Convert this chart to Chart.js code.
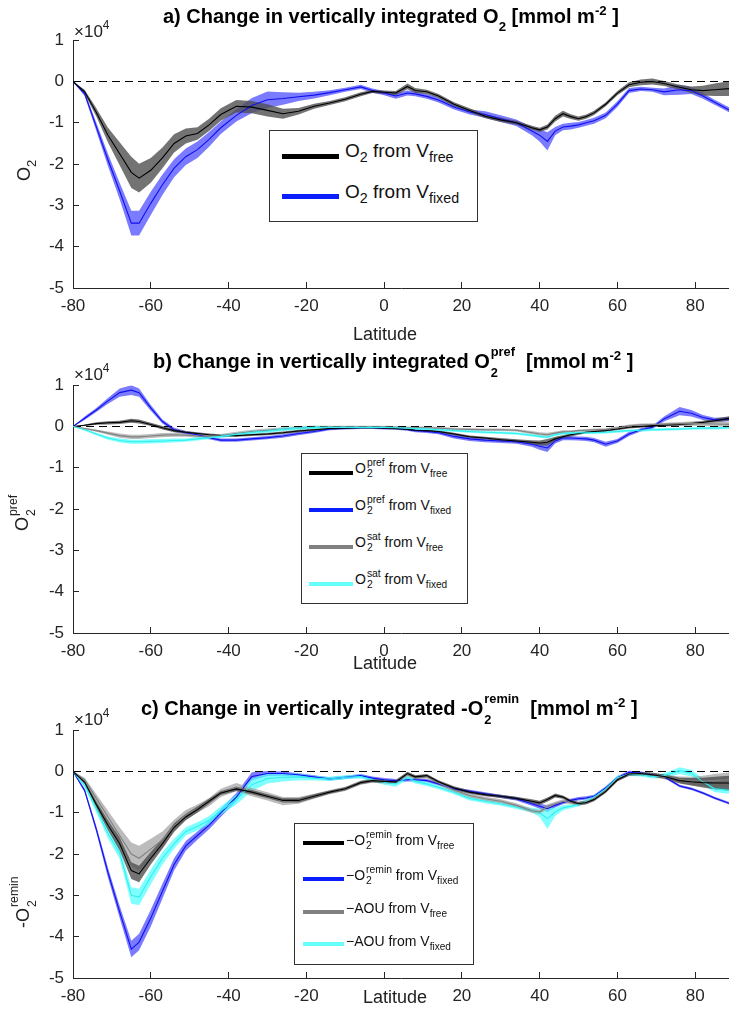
<!DOCTYPE html>
<html><head><meta charset="utf-8">
<script src="https://cdn.jsdelivr.net/npm/chart.js@4.4.1/dist/chart.umd.min.js"></script>
<style>
body{margin:0;background:#fff}
#wrap{position:relative;width:729px;height:1012px;overflow:hidden;background:#fff;font-family:"Liberation Sans",Arial,Helvetica,sans-serif;color:#000}
canvas{position:absolute;left:0}
.ab{position:absolute;white-space:nowrap;line-height:1}
.t{font-weight:bold;font-size:20px}
sub,sup{line-height:0;font-size:0.7em}
.t sub{font-size:0.66em;vertical-align:-8px}
.t sup{font-size:0.66em;vertical-align:8px}
.stk{position:relative;display:inline-block;line-height:1;margin-left:1px}
.stk>.u{position:relative}
.stk>.d{position:absolute;left:0}
.t .stk{font-size:0.64em}
.t .stk>.u{top:-0.95em}
.t .stk>.d{top:0.7em}
.lg{font-size:14px;color:#111}
.lg sub{font-size:0.72em;vertical-align:-4px}
.lg .stk{font-size:0.74em}
.lg .stk>.u{top:-0.7em}
.lg .stk>.d{top:0.42em}
.la{font-size:19px;color:#111}
.la sub{font-size:0.75em;vertical-align:-5px}
.box{position:absolute;border:1px solid #333;background:#fff;box-sizing:border-box}
.sw{position:absolute}
.yl{position:absolute;width:0;height:0;transform:rotate(-90deg);transform-origin:0 0}
.yl>div{position:absolute;left:0;white-space:nowrap;line-height:1;font-size:18px;color:#222}
.yl sub{font-size:0.72em;vertical-align:-6px}
.yl .stk{font-size:0.68em}
.yl .stk>.u{top:-0.85em}
.yl .stk>.d{top:0.6em}
.ex{font-size:17px;color:#222}
.ex sup{font-size:0.7em;vertical-align:8px}
.xl{font-size:18px;color:#222}
</style></head><body><div id="wrap">
<canvas id="ca" width="729" height="345" style="top:0px"></canvas>
<canvas id="cb" width="729" height="340" style="top:345px"></canvas>
<canvas id="cc" width="729" height="327" style="top:685px"></canvas>

<div class="ab t" style="left:163px;top:6px">a) Change in vertically integrated O<sub>2</sub> [mmol m<sup>-2</sup> ]</div>
<div class="ab t" style="left:153px;top:351px">b) Change in vertically integrated O<span class="stk"><span class="u">pref</span><span class="d">2</span></span>&nbsp; [mmol m<sup>-2</sup> ]</div>
<div class="ab t" style="left:141px;top:698px">c) Change in vertically integrated -O<span class="stk"><span class="u">remin</span><span class="d">2</span></span>&nbsp; [mmol m<sup>-2</sup> ]</div>

<div class="ab ex" style="left:74px;top:23px">×10<sup>4</sup></div>
<div class="ab ex" style="left:74px;top:366px">×10<sup>4</sup></div>
<div class="ab ex" style="left:74px;top:711px">×10<sup>4</sup></div>

<div class="yl" style="left:30px;top:181px"><div style="top:-15.2px">O<sub>2</sub></div></div>
<div class="yl" style="left:28px;top:531px"><div style="top:-15.2px">O<span class="stk"><span class="u">pref</span><span class="d">2</span></span></div></div>
<div class="yl" style="left:29px;top:928px"><div style="top:-15.2px">-O<span class="stk"><span class="u">remin</span><span class="d">2</span></span></div></div>

<div class="ab xl" style="left:353px;top:325px">Latitude</div>
<div class="ab xl" style="left:353px;top:654px">Latitude</div>
<div class="ab xl" style="left:363px;top:988px">Latitude</div>

<div class="box" style="left:269px;top:130px;width:209px;height:92px"></div>
<div class="sw" style="left:282px;top:154px;width:57px;height:5px;background:#000"></div>
<div class="ab la" style="left:345px;top:141px">O<sub>2</sub> from V<sub>free</sub></div>
<div class="sw" style="left:282px;top:194px;width:57px;height:5px;background:#0a1eff"></div>
<div class="ab la" style="left:345px;top:182px">O<sub>2</sub> from V<sub>fixed</sub></div>

<div class="box" style="left:301px;top:453px;width:167px;height:151px"></div>
<div class="sw" style="left:309px;top:471px;width:44px;height:4px;background:#000"></div>
<div class="ab lg" style="left:355px;top:461px">O<span class="stk"><span class="u">pref</span><span class="d">2</span></span> from V<sub>free</sub></div>
<div class="sw" style="left:309px;top:508px;width:44px;height:4px;background:#0a1eff"></div>
<div class="ab lg" style="left:355px;top:498px">O<span class="stk"><span class="u">pref</span><span class="d">2</span></span> from V<sub>fixed</sub></div>
<div class="sw" style="left:309px;top:545px;width:44px;height:4px;background:#808080"></div>
<div class="ab lg" style="left:355px;top:535px">O<span class="stk"><span class="u">sat</span><span class="d">2</span></span> from V<sub>free</sub></div>
<div class="sw" style="left:309px;top:582px;width:44px;height:4px;background:#66ffff"></div>
<div class="ab lg" style="left:355px;top:572px">O<span class="stk"><span class="u">sat</span><span class="d">2</span></span> from V<sub>fixed</sub></div>

<div class="box" style="left:294px;top:823px;width:180px;height:142px"></div>
<div class="sw" style="left:303px;top:841px;width:41px;height:4px;background:#000"></div>
<div class="ab lg" style="left:346px;top:833px">−O<span class="stk"><span class="u">remin</span><span class="d">2</span></span> from V<sub>free</sub></div>
<div class="sw" style="left:303px;top:877px;width:41px;height:4px;background:#0a1eff"></div>
<div class="ab lg" style="left:346px;top:868px">−O<span class="stk"><span class="u">remin</span><span class="d">2</span></span> from V<sub>fixed</sub></div>
<div class="sw" style="left:303px;top:910px;width:41px;height:4px;background:#808080"></div>
<div class="ab lg" style="left:346px;top:901px">−AOU from V<sub>free</sub></div>
<div class="sw" style="left:303px;top:942px;width:41px;height:4px;background:#66ffff"></div>
<div class="ab lg" style="left:346px;top:934px">−AOU from V<sub>fixed</sub></div>
</div>
<script>
// ---- data (values in units of 10^4 mmol m^-2) ----
const lat = [-80,-77,-74,-71,-68,-65,-63,-60,-57,-54,-51,-48,-45,-42,-38,-34,-30,-26,-22,-18,-14,-10,-6,-3,0,3,6,8,11,14,18,22,26,30,34,38,40,42,44,46,48,50,52,54,57,60,63,66,69,72,76,79,82,85,89];
const xTicks = [-80,-60,-40,-20,0,20,40,60,80];
const yTicks = [1,0,-1,-2,-3,-4,-5];

// panel a
const aO2Free = [0,-0.25,-0.75,-1.3,-1.75,-2.2,-2.34,-2.15,-1.85,-1.5,-1.32,-1.26,-1.05,-0.8,-0.6,-0.62,-0.7,-0.78,-0.72,-0.6,-0.52,-0.43,-0.31,-0.24,-0.26,-0.28,-0.12,-0.22,-0.25,-0.35,-0.55,-0.7,-0.84,-0.93,-1.0,-1.12,-1.17,-1.1,-0.9,-0.78,-0.85,-0.9,-0.85,-0.76,-0.55,-0.28,-0.08,-0.02,0,-0.05,-0.14,-0.2,-0.22,-0.2,-0.17];
const aO2FreeSpread = [0,0.05,0.1,0.18,0.28,0.38,0.35,0.3,0.25,0.22,0.18,0.15,0.15,0.15,0.15,0.15,0.15,0.12,0.08,0.06,0.05,0.05,0.05,0.04,0.04,0.05,0.07,0.06,0.05,0.05,0.05,0.05,0.05,0.05,0.05,0.05,0.05,0.06,0.07,0.07,0.06,0.05,0.05,0.05,0.05,0.05,0.06,0.07,0.07,0.06,0.06,0.08,0.12,0.15,0.18];
const aO2Fixed = [0,-0.3,-1.1,-1.9,-2.65,-3.43,-3.43,-2.95,-2.5,-2.1,-1.82,-1.65,-1.4,-1.12,-0.82,-0.58,-0.44,-0.41,-0.37,-0.33,-0.27,-0.2,-0.13,-0.22,-0.28,-0.35,-0.28,-0.3,-0.36,-0.45,-0.62,-0.74,-0.8,-0.9,-1.0,-1.2,-1.3,-1.45,-1.2,-1.1,-1.08,-1.05,-1.0,-0.95,-0.82,-0.55,-0.22,-0.18,-0.2,-0.25,-0.2,-0.22,-0.35,-0.5,-0.7];
const aO2FixedSpread = [0,0.05,0.1,0.15,0.2,0.3,0.3,0.28,0.25,0.22,0.2,0.2,0.18,0.15,0.15,0.18,0.2,0.15,0.1,0.08,0.06,0.05,0.05,0.05,0.05,0.07,0.06,0.06,0.06,0.06,0.06,0.06,0.08,0.08,0.08,0.1,0.15,0.22,0.1,0.08,0.08,0.07,0.07,0.07,0.07,0.07,0.06,0.05,0.05,0.08,0.12,0.08,0.07,0.06,0.06];

// panel b
const bPrefFree = [0,0.03,0.07,0.09,0.1,0.14,0.12,0.05,-0.03,-0.1,-0.14,-0.17,-0.2,-0.22,-0.22,-0.2,-0.18,-0.15,-0.11,-0.08,-0.05,-0.04,-0.03,-0.03,-0.04,-0.05,-0.07,-0.09,-0.1,-0.12,-0.18,-0.25,-0.28,-0.32,-0.35,-0.38,-0.4,-0.38,-0.3,-0.25,-0.2,-0.17,-0.14,-0.12,-0.1,-0.06,-0.02,0,0.02,0.03,0.05,0.07,0.1,0.14,0.2];
const bPrefFreeSpread = [0,0.02,0.03,0.04,0.04,0.05,0.05,0.04,0.04,0.04,0.03,0.03,0.03,0.03,0.03,0.03,0.03,0.03,0.03,0.03,0.02,0.02,0.02,0.02,0.02,0.02,0.02,0.02,0.02,0.03,0.03,0.03,0.03,0.04,0.04,0.05,0.06,0.08,0.05,0.04,0.04,0.03,0.03,0.03,0.03,0.03,0.03,0.03,0.03,0.03,0.03,0.04,0.04,0.05,0.05];
const bPrefFixed = [0,0.2,0.4,0.62,0.82,0.88,0.82,0.45,0.12,-0.08,-0.15,-0.2,-0.27,-0.33,-0.33,-0.3,-0.27,-0.23,-0.17,-0.12,-0.06,-0.04,-0.03,-0.03,-0.04,-0.05,-0.07,-0.1,-0.12,-0.15,-0.24,-0.3,-0.33,-0.35,-0.37,-0.43,-0.48,-0.52,-0.35,-0.28,-0.28,-0.29,-0.3,-0.33,-0.43,-0.35,-0.18,-0.08,-0.02,0.18,0.37,0.32,0.22,0.16,0.18];
const bPrefFixedSpread = [0,0.04,0.05,0.07,0.1,0.12,0.1,0.07,0.05,0.05,0.04,0.04,0.04,0.04,0.04,0.04,0.04,0.04,0.04,0.04,0.03,0.03,0.03,0.03,0.03,0.03,0.03,0.04,0.04,0.04,0.05,0.05,0.05,0.05,0.05,0.06,0.08,0.1,0.06,0.05,0.05,0.05,0.05,0.05,0.06,0.05,0.05,0.04,0.04,0.06,0.1,0.08,0.06,0.05,0.05];
const bSatFree = [0,-0.05,-0.1,-0.16,-0.22,-0.25,-0.25,-0.23,-0.21,-0.2,-0.21,-0.23,-0.24,-0.22,-0.17,-0.12,-0.09,-0.06,-0.03,-0.02,-0.01,-0.01,-0.01,-0.01,-0.01,-0.02,-0.03,-0.03,-0.03,-0.04,-0.06,-0.07,-0.08,-0.08,-0.09,-0.15,-0.18,-0.2,-0.16,-0.13,-0.12,-0.1,-0.09,-0.08,-0.07,-0.03,0.02,0.04,0.05,0.06,0.07,0.07,0.07,0.06,0.05];
const bSatFreeSpread = [0,0.02,0.03,0.04,0.05,0.05,0.05,0.05,0.05,0.05,0.04,0.04,0.04,0.04,0.04,0.04,0.04,0.04,0.04,0.04,0.03,0.03,0.03,0.03,0.03,0.03,0.03,0.03,0.03,0.03,0.03,0.03,0.03,0.03,0.03,0.04,0.04,0.05,0.04,0.04,0.03,0.03,0.03,0.03,0.03,0.03,0.03,0.03,0.03,0.03,0.04,0.05,0.06,0.06,0.06];
const bSatFixed = [0,-0.08,-0.18,-0.28,-0.34,-0.37,-0.37,-0.36,-0.35,-0.34,-0.33,-0.3,-0.27,-0.24,-0.19,-0.14,-0.11,-0.07,-0.04,-0.02,-0.02,-0.02,-0.02,-0.02,-0.02,-0.03,-0.04,-0.05,-0.06,-0.08,-0.1,-0.12,-0.14,-0.15,-0.17,-0.21,-0.24,-0.26,-0.2,-0.17,-0.16,-0.15,-0.15,-0.15,-0.14,-0.12,-0.1,-0.09,-0.08,-0.07,-0.06,-0.05,-0.04,-0.04,-0.03];
const bSatFixedSpread = [0,0.02,0.03,0.04,0.05,0.05,0.05,0.05,0.05,0.05,0.04,0.04,0.04,0.04,0.04,0.04,0.04,0.04,0.04,0.04,0.03,0.03,0.03,0.03,0.03,0.03,0.03,0.03,0.03,0.03,0.03,0.03,0.03,0.03,0.03,0.03,0.03,0.03,0.03,0.03,0.03,0.03,0.03,0.03,0.03,0.03,0.03,0.03,0.03,0.03,0.03,0.03,0.03,0.03,0.03];

// panel c
const cReminFree = [0,-0.26,-0.8,-1.3,-1.75,-2.4,-2.48,-2.1,-1.75,-1.35,-1.1,-0.92,-0.72,-0.52,-0.42,-0.5,-0.6,-0.7,-0.7,-0.6,-0.5,-0.42,-0.27,-0.22,-0.24,-0.25,-0.05,-0.13,-0.1,-0.25,-0.4,-0.5,-0.56,-0.6,-0.65,-0.72,-0.76,-0.68,-0.58,-0.62,-0.72,-0.78,-0.75,-0.68,-0.48,-0.2,-0.06,-0.05,-0.08,-0.12,-0.22,-0.25,-0.27,-0.28,-0.28];
const cReminFreeSpread = [0,0.04,0.08,0.12,0.16,0.2,0.2,0.15,0.12,0.1,0.08,0.07,0.06,0.05,0.05,0.05,0.05,0.05,0.05,0.05,0.04,0.04,0.04,0.04,0.04,0.04,0.04,0.04,0.04,0.04,0.04,0.04,0.04,0.04,0.04,0.05,0.05,0.05,0.05,0.04,0.04,0.04,0.04,0.04,0.04,0.04,0.04,0.04,0.05,0.05,0.07,0.09,0.12,0.15,0.18];
const cReminFixed = [0,-0.46,-1.4,-2.45,-3.4,-4.3,-4.13,-3.55,-2.9,-2.25,-1.8,-1.55,-1.3,-1.0,-0.62,-0.12,-0.05,-0.05,-0.08,-0.13,-0.18,-0.14,-0.1,-0.16,-0.2,-0.22,-0.2,-0.2,-0.22,-0.3,-0.42,-0.48,-0.54,-0.6,-0.66,-0.78,-0.84,-0.9,-0.82,-0.75,-0.7,-0.66,-0.64,-0.6,-0.4,-0.15,-0.02,-0.04,-0.08,-0.12,-0.35,-0.42,-0.52,-0.64,-0.78];
const cReminFixedSpread = [0,0.05,0.08,0.12,0.15,0.2,0.2,0.2,0.18,0.15,0.12,0.1,0.1,0.1,0.1,0.1,0.06,0.05,0.04,0.04,0.04,0.04,0.04,0.04,0.04,0.04,0.04,0.04,0.04,0.04,0.04,0.04,0.04,0.04,0.04,0.05,0.06,0.08,0.05,0.04,0.04,0.04,0.04,0.04,0.04,0.04,0.04,0.04,0.04,0.04,0.03,0.03,0.03,0.03,0.03];
const cAouFree = [0,-0.2,-0.65,-1.1,-1.55,-2.0,-2.1,-1.88,-1.65,-1.32,-1.05,-0.9,-0.74,-0.52,-0.38,-0.5,-0.6,-0.72,-0.7,-0.6,-0.5,-0.42,-0.27,-0.22,-0.24,-0.25,-0.06,-0.14,-0.12,-0.28,-0.45,-0.58,-0.66,-0.72,-0.82,-0.95,-0.98,-0.85,-0.78,-0.72,-0.74,-0.78,-0.74,-0.66,-0.46,-0.18,-0.06,-0.05,-0.08,-0.13,-0.2,-0.23,-0.23,-0.22,-0.2];
const cAouFreeSpread = [0,0.05,0.1,0.15,0.2,0.28,0.3,0.25,0.2,0.15,0.12,0.1,0.1,0.1,0.1,0.1,0.1,0.1,0.08,0.06,0.05,0.05,0.05,0.05,0.05,0.05,0.06,0.05,0.05,0.05,0.05,0.05,0.05,0.05,0.05,0.05,0.05,0.06,0.05,0.05,0.05,0.05,0.05,0.05,0.05,0.05,0.04,0.04,0.05,0.06,0.08,0.1,0.13,0.16,0.18];
const cAouFixed = [0,-0.34,-0.9,-1.5,-1.97,-3.0,-3.04,-2.55,-2.1,-1.75,-1.45,-1.33,-1.18,-0.95,-0.68,-0.32,-0.17,-0.14,-0.13,-0.16,-0.18,-0.14,-0.12,-0.2,-0.26,-0.3,-0.14,-0.24,-0.3,-0.38,-0.5,-0.65,-0.72,-0.78,-0.86,-0.94,-1.0,-1.14,-0.98,-0.88,-0.84,-0.8,-0.72,-0.62,-0.42,-0.15,-0.07,-0.08,-0.12,-0.1,0.02,-0.04,-0.25,-0.42,-0.46];
const cAouFixedSpread = [0,0.05,0.1,0.12,0.15,0.2,0.2,0.18,0.15,0.12,0.1,0.1,0.1,0.1,0.12,0.15,0.12,0.1,0.08,0.06,0.05,0.05,0.05,0.05,0.06,0.07,0.06,0.05,0.05,0.05,0.05,0.05,0.05,0.05,0.05,0.06,0.1,0.25,0.1,0.06,0.05,0.05,0.05,0.05,0.05,0.05,0.04,0.04,0.05,0.06,0.08,0.08,0.08,0.08,0.08];

// ---- styling ----
const FF = '"Liberation Sans", Arial, Helvetica, sans-serif';
const AX = '#262626';
const COL = {
  black: {line:'#000000', band:'rgba(80,80,80,0.8)'},
  blue:  {line:'#1010ee', band:'rgba(90,90,255,0.8)'},
  grey:  {line:'#808080', band:'rgba(160,160,160,0.7)'},
  cyan:  {line:'#30f0f0', band:'rgba(80,255,255,0.72)'}
};
Chart.defaults.font.family = FF;

function makeChart(id, cfg) {
  const datasets = [];
  cfg.series.forEach(s => {
    datasets.push({data: lat.map((x,i)=>({x, y: s.c[i]-s.s[i]})), borderWidth:0, pointRadius:0, fill:false, order:s.bo});
    datasets.push({data: lat.map((x,i)=>({x, y: s.c[i]+s.s[i]})), borderWidth:0, pointRadius:0, fill:'-1', backgroundColor:s.col.band, order:s.bo});
  });
  datasets.push({data:[{x:-80,y:0},{x:90,y:0}], borderColor:'#000', borderWidth:1, borderDash:[8,5], pointRadius:0, fill:false, order:6});
  cfg.series.forEach(s => {
    datasets.push({data: lat.map((x,i)=>({x, y: s.c[i]})), borderColor:s.col.line, borderWidth:1.1, pointRadius:0, fill:false, order:s.lo});
  });
  new Chart(document.getElementById(id), {
    type:'line',
    data:{datasets},
    options:{
      responsive:false, animation:false, devicePixelRatio:1,
      layout:{padding:{top:cfg.top, left:0, right:0, bottom:0}},
      plugins:{legend:{display:false}, tooltip:{enabled:false}, title:{display:false}},
      elements:{line:{tension:0}},
      scales:{
        x:{type:'linear', min:-80, max:88.7,
           afterBuildTicks: sc => { sc.ticks = xTicks.map(v=>({value:v})); },
           ticks:{font:{size:17}, color:AX, padding:14.4, maxRotation:0, autoSkip:false,
                  callback: v => (cfg.hideZero && v === 0) ? '' : String(v)},
           grid:{drawOnChartArea:false, drawTicks:true, tickLength:-6, color:AX, lineWidth:1},
           border:{display:true, color:AX, width:1},
           afterFit: sc => { sc.height = cfg.xh; }},
        y:{type:'linear', min:-5, max:1,
           afterBuildTicks: sc => { sc.ticks = yTicks.map(v=>({value:v})); },
           ticks:{font:{size:17}, color:AX, padding:15, autoSkip:false, callback: v => String(v)},
           grid:{drawOnChartArea:false, drawTicks:true, tickLength:-6, color:AX, lineWidth:1},
           border:{display:true, color:AX, width:1},
           afterFit: sc => { sc.width = 73; }}
      }
    }
  });
}

makeChart('ca', {top:40.2, xh:57, series:[
  {c:aO2Fixed, s:aO2FixedSpread, col:COL.blue, bo:10, lo:2},
  {c:aO2Free, s:aO2FreeSpread, col:COL.black, bo:9, lo:1}
]});
makeChart('cb', {top:40.2, xh:52, series:[
  {c:bPrefFixed, s:bPrefFixedSpread, col:COL.blue, bo:10, lo:4},
  {c:bPrefFree, s:bPrefFreeSpread, col:COL.black, bo:9, lo:3},
  {c:bSatFree, s:bSatFreeSpread, col:COL.grey, bo:8, lo:2},
  {c:bSatFixed, s:bSatFixedSpread, col:COL.cyan, bo:7, lo:1}
]});
makeChart('cc', {top:45.2, xh:34, hideZero:true, series:[
  {c:cReminFixed, s:cReminFixedSpread, col:COL.blue, bo:10, lo:4},
  {c:cAouFixed, s:cAouFixedSpread, col:COL.cyan, bo:9, lo:3},
  {c:cAouFree, s:cAouFreeSpread, col:COL.grey, bo:8, lo:2},
  {c:cReminFree, s:cReminFreeSpread, col:COL.black, bo:7, lo:1}
]});
</script>
</body></html>
